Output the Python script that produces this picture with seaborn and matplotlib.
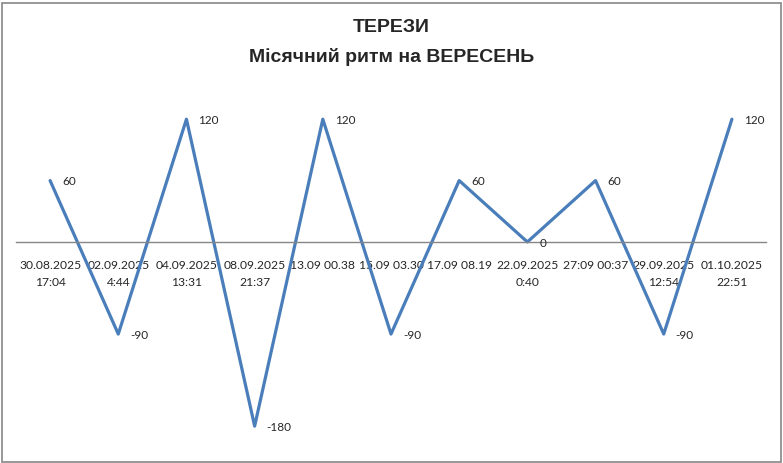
import pandas as pd
import matplotlib.pyplot as plt
from matplotlib.patches import Rectangle
import seaborn as sns

# Дані графіка
dates = ['30.08.2025\n17:04', '02.09.2025\n4:44', '04.09.2025\n13:31', '08.09.2025\n21:37',
         '13.09 00.38', '15.09 03.30', '17.09 08.19', '22.09.2025\n0:40',
         '27:09 00:37', '29.09.2025\n12:54', '01.10.2025\n22:51']
values = [60, -90, 120, -180, 120, -90, 60, 0, 60, -90, 120]
title_lines = ['ТЕРЕЗИ', 'Місячний ритм на ВЕРЕСЕНЬ']

df = pd.DataFrame({'idx': range(len(dates)), 'value': values})

sns.set_style('white')
plt.rcParams['font.family'] = ['Lato', 'DejaVu Sans']

fig = plt.figure(figsize=(7.83, 4.63), dpi=100)
ax = fig.add_axes([16 / 783, (463 - 442) / 463, 750 / 783, 340 / 463])

sns.lineplot(data=df, x='idx', y='value', ax=ax, color='#4a7ebb', linewidth=2.3)

ax.set_xlim(-0.5, len(dates) - 0.5)
ax.set_ylim(-195.5, 136.8)

# вісь по нулю (до підписів, бо set_position скидає тики)
for side in ['left', 'right', 'top']:
    ax.spines[side].set_visible(False)
ax.spines['bottom'].set_position(('data', 0))
ax.spines['bottom'].set_color('#868686')
ax.spines['bottom'].set_linewidth(1.0)

for i, v in enumerate(values):
    ax.annotate(str(v), (i, v), xytext=(8.5, -1), textcoords='offset points',
                va='center', ha='left', fontsize=8.5)

ax.set_xticks(range(len(dates)))
ax.set_xticklabels(dates, fontsize=8.75, linespacing=1.7)
ax.tick_params(axis='x', length=0, pad=13)
ax.set_yticks([])
ax.set_xlabel('')
ax.set_ylabel('')

for k, yy in enumerate([27, 57]):
    fig.text(0.5, 1 - yy / 463, title_lines[k], ha='center', va='center',
             fontsize=14, fontweight='bold', family=['Liberation Sans', 'DejaVu Sans'])

fig.patches.append(Rectangle((2 / 783, 1.5 / 463), 779 / 783, 459 / 463,
                             transform=fig.transFigure, fill=False,
                             edgecolor='#868686', linewidth=1.2))

fig.savefig('out.png', dpi=100)
